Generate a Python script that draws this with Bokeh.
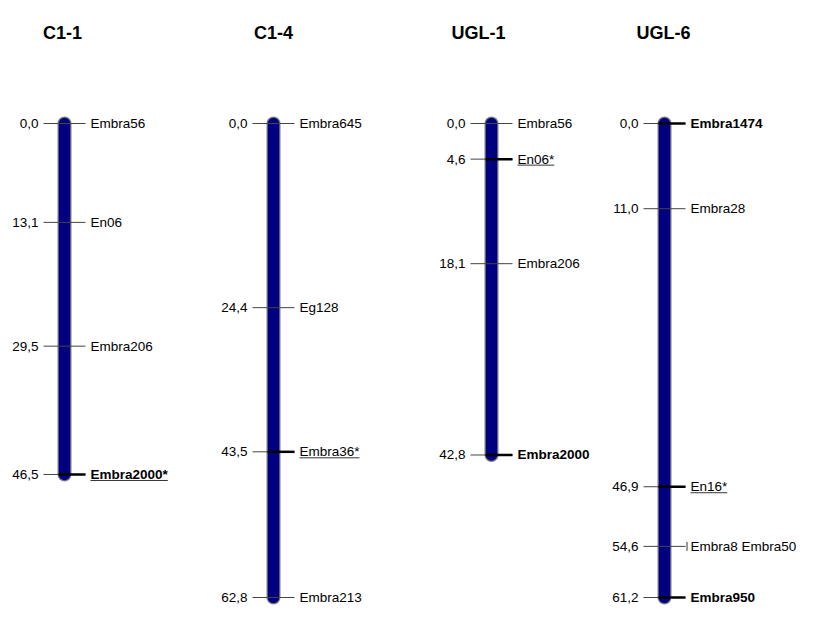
from bokeh.plotting import figure
from bokeh.models import Range1d
from bokeh.embed import file_html
from bokeh.resources import INLINE
from bokeh.core.properties import value

# ---------------- data ----------------
chrom_names = ["C1-1", "C1-4", "UGL-1", "UGL-6"]

c11_pos = [0.0, 13.1, 29.5, 46.5]
c11_markers = ["Embra56", "En06", "Embra206", "Embra2000*"]
c11_bold = [False, False, False, True]
c11_under = [False, False, False, True]

c14_pos = [0.0, 24.4, 43.5, 62.8]
c14_markers = ["Embra645", "Eg128", "Embra36*", "Embra213"]
c14_bold = [False, False, False, False]
c14_under = [False, False, True, False]

ugl1_pos = [0.0, 4.6, 18.1, 42.8]
ugl1_markers = ["Embra56", "En06*", "Embra206", "Embra2000"]
ugl1_bold = [False, False, False, True]
ugl1_under = [False, True, False, False]

ugl6_pos = [0.0, 11.0, 46.9, 54.6, 61.2]
ugl6_markers = ["Embra1474", "Embra28", "En16*", "Embra8 Embra50", "Embra950"]
ugl6_bold = [True, False, False, False, True]
ugl6_under = [False, False, True, False, False]
ugl6_group = [False, False, False, True, False]

# ---------------- layout ----------------
W, H = 798, 606
FONT = value("Liberation Sans")
FS = 13.5
TOP_PX = 123
BOT_PX = 597
TICK = 21
GAP = 5

def make_range(max_cm):
    k = (BOT_PX - TOP_PX) / max_cm
    return Range1d(start=max_cm + (H - BOT_PX) / k, end=-TOP_PX / k), k

c_max = max(max(c11_pos), max(c14_pos))
u_max = max(max(ugl1_pos), max(ugl6_pos))
c_range, c_k = make_range(c_max)
u_range, u_k = make_range(u_max)

REG = {'E': 667, 'm': 833, 'b': 556, 'r': 333, 'a': 556, 'n': 556, 'g': 556, '*': 389, ' ': 278}
BLD = {'E': 667, 'm': 889, 'b': 611, 'r': 389, 'a': 556, 'n': 611, 'g': 611, '*': 389, ' ': 278}

def text_w(s, bold):
    t = BLD if bold else REG
    return sum(t.get(ch, 556) for ch in s) * FS / 1000.0

p = figure(width=W, height=H, output_backend="svg", toolbar_location=None,
           x_range=Range1d(0, W), y_range=c_range, min_border=0,
           background_fill_color="white", border_fill_color="white")
p.extra_y_ranges = {"ugl": u_range}
p.xaxis.visible = False
p.yaxis.visible = False
p.grid.visible = False
p.outline_line_color = None

chroms = [
    (64.0, c11_pos, c11_markers, c11_bold, c11_under, [False] * len(c11_pos), "default", c_k),
    (273.0, c14_pos, c14_markers, c14_bold, c14_under, [False] * len(c14_pos), "default", c_k),
    (491.0, ugl1_pos, ugl1_markers, ugl1_bold, ugl1_under, [False] * len(ugl1_pos), "ugl", u_k),
    (664.0, ugl6_pos, ugl6_markers, ugl6_bold, ugl6_under, ugl6_group, "ugl", u_k),
]

for bx, pos, mk, bold, under, group, rn, k in chroms:
    # chromosome bar
    p.segment(x0=[bx], y0=[pos[0]], x1=[bx], y1=[pos[-1]], line_width=14,
              line_color="#7f7f7f", line_cap="round", y_range_name=rn)
    p.segment(x0=[bx], y0=[pos[0]], x1=[bx], y1=[pos[-1]], line_width=11.5,
              line_color="#000080", line_cap="round", y_range_name=rn)
    # thin ticks
    n = len(pos)
    p.segment(x0=[bx - TICK] * n, y0=pos, x1=[bx + TICK] * n, y1=pos,
              line_width=1, line_color="#444444", y_range_name=rn)
    # thick right part for highlighted markers
    hy = [y for y, b, u in zip(pos, bold, under) if b or u]
    if hy:
        p.segment(x0=[bx - 6] * len(hy), y0=hy, x1=[bx + TICK] * len(hy), y1=hy,
                  line_width=2.5, line_color="black", y_range_name=rn)
    # group marker bar
    gy = [y for y, g in zip(pos, group) if g]
    if gy:
        p.segment(x0=[bx + TICK + 1.5] * len(gy), y0=[y - 4.5 / k for y in gy],
                  x1=[bx + TICK + 1.5] * len(gy), y1=[y + 4.5 / k for y in gy],
                  line_width=1, line_color="#333333", y_range_name=rn)
    # position labels
    p.text(x=[bx - TICK - GAP] * n, y=pos, text=[f"{v:.1f}".replace(".", ",") for v in pos],
           text_font=FONT, text_font_size=f"{FS}px", text_align="right",
           text_baseline="middle", text_color="black", y_range_name=rn)
    # marker labels
    for flag in (False, True):
        ys = [y for y, b in zip(pos, bold) if b == flag]
        ts = [t for t, b in zip(mk, bold) if b == flag]
        if ys:
            p.text(x=[bx + TICK + GAP] * len(ys), y=ys, text=ts,
                   text_font=FONT, text_font_size=f"{FS}px", text_align="left",
                   text_baseline="middle", text_color="black",
                   text_font_style="bold" if flag else "normal", y_range_name=rn)
    # underlines
    for y, t, b, u in zip(pos, mk, bold, under):
        if u:
            x0 = bx + TICK + GAP
            p.segment(x0=[x0], y0=[y + 6 / k], x1=[x0 + text_w(t, b)], y1=[y + 6 / k],
                      line_width=1, line_color="#333333", y_range_name=rn)

# titles
title_x = [62, 273, 478, 663]
title_y = (32 - TOP_PX) / c_k
p.text(x=title_x, y=[title_y] * len(title_x), text=chrom_names,
       text_font=FONT, text_font_size="18px", text_font_style="bold",
       text_align="center", text_baseline="middle", text_color="black")

open("out.html", "w").write(file_html(p, INLINE))
